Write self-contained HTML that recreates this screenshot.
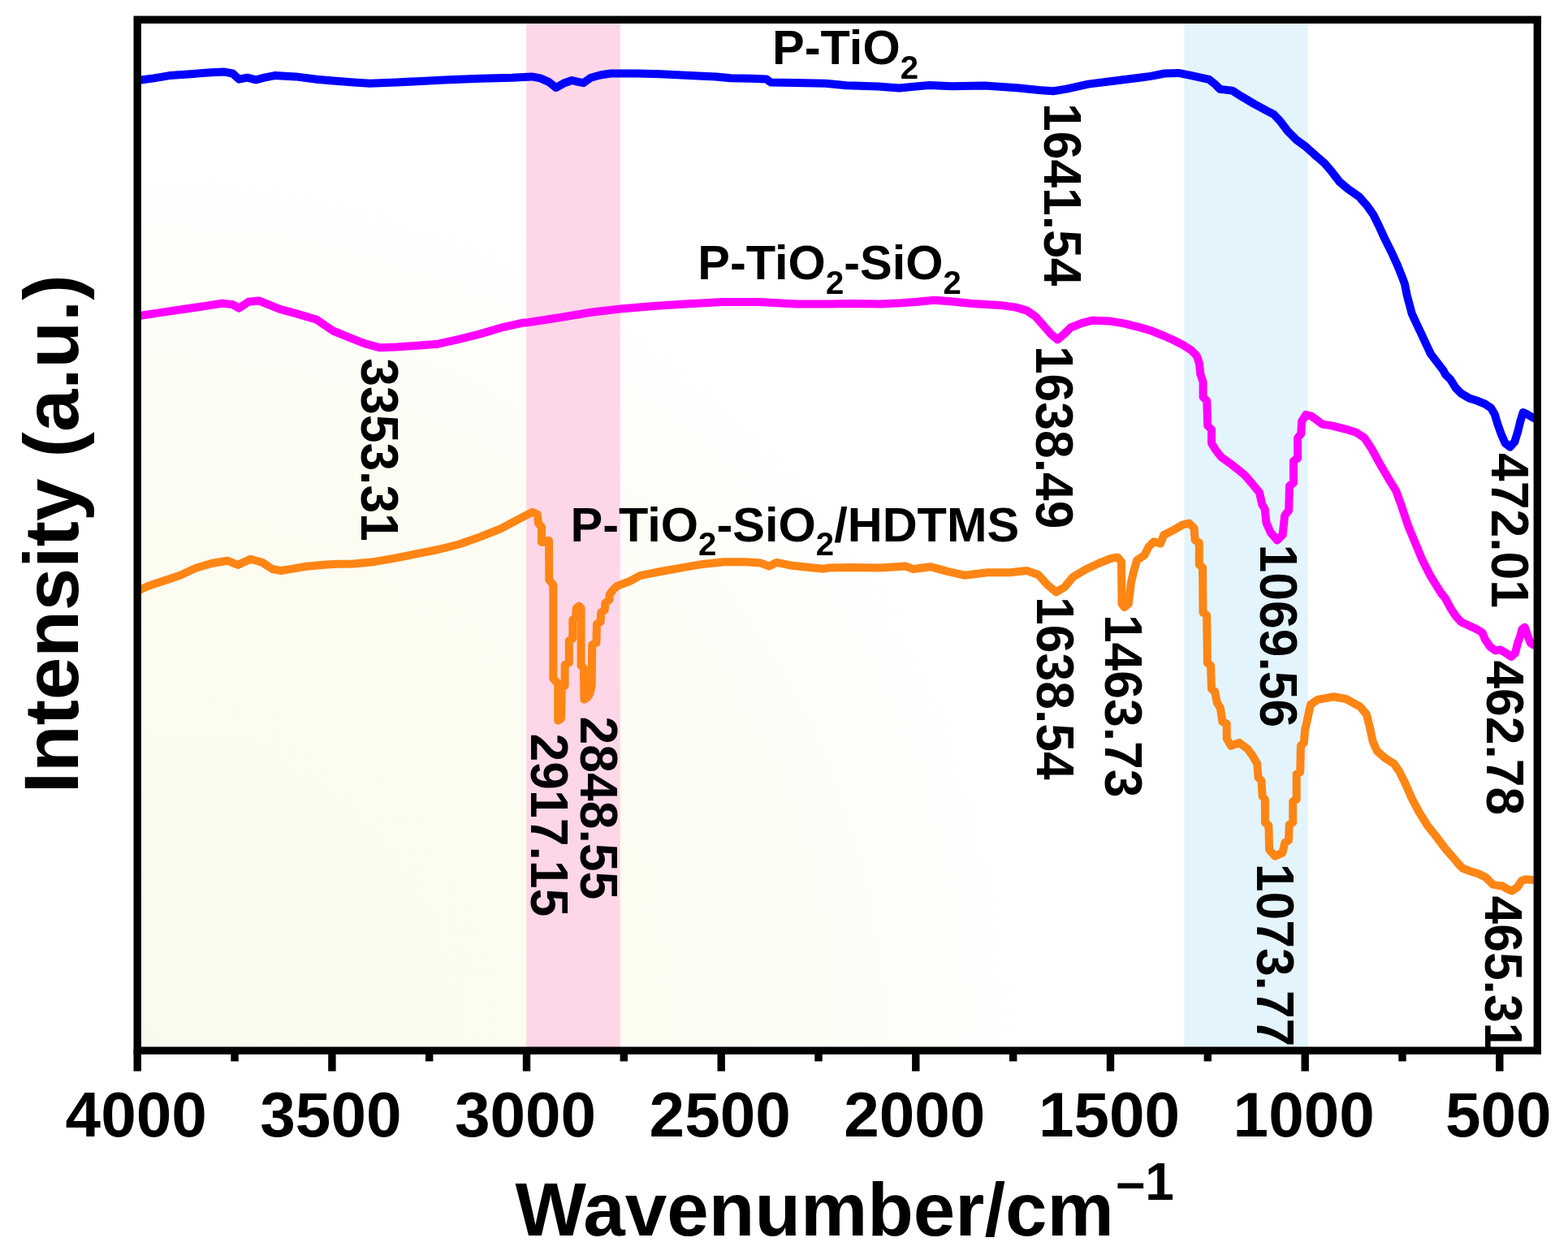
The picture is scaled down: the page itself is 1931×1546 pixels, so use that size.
<!DOCTYPE html>
<html><head><meta charset="utf-8"><title>FTIR spectra</title>
<style>html,body{margin:0;padding:0;background:#fff;}svg{display:block;}</style></head>
<body>
<svg width="1931" height="1546" viewBox="0 0 1931 1546">
<defs><radialGradient id="bg" gradientUnits="userSpaceOnUse" cx="174" cy="1290" r="1400"><stop offset="0" stop-color="#fafaec"/><stop offset="0.5" stop-color="#fcfcf2"/><stop offset="0.8" stop-color="#ffffff"/><stop offset="1" stop-color="#ffffff"/></radialGradient><clipPath id="pc"><rect x="169.2" y="24.3" width="1724.1" height="1269.9"/></clipPath></defs>
<rect x="0" y="0" width="1931" height="1546" fill="#ffffff"/>
<rect x="169.2" y="24.3" width="1724.1" height="1262.9" fill="url(#bg)"/>
<rect x="648.2" y="24.3" width="115.6" height="1269.9" fill="#fdd6e7"/>
<rect x="1458.4" y="24.3" width="152.3" height="1269.9" fill="#e3f4fd"/>
<g clip-path="url(#pc)" fill="none" stroke-linejoin="round" stroke-linecap="round" stroke-width="10">
<polyline stroke="#0000ff" points="170.0,99.0 189.4,96.4 208.8,93.1 234.7,91.2 260.6,89.2 276.2,88.6 286.5,90.5 294.3,97.7 304.6,95.7 315.0,98.3 325.4,95.7 338.3,93.1 364.2,94.4 390.1,97.7 410.0,99.6 435.9,101.5 455.3,102.8 487.7,101.5 513.6,100.2 552.4,98.3 591.3,96.8 630.1,95.7 655.0,94.4 665.4,96.4 675.7,100.9 684.8,108.0 693.8,102.8 704.2,99.0 712.0,100.9 718.4,102.2 727.5,95.7 739.2,92.5 752.1,90.5 784.5,90.5 814.2,91.2 849.2,93.1 881.6,94.4 900.0,96.2 925.9,96.8 944.0,97.5 949.2,101.4 977.7,102.0 1016.5,102.7 1042.4,105.2 1081.3,106.5 1107.1,108.5 1133.0,105.9 1145.0,104.9 1171.9,106.3 1212.3,105.6 1252.7,108.3 1279.6,111.0 1297.1,112.3 1313.3,109.6 1340.2,103.6 1367.2,100.2 1405.0,95.5 1417.1,93.9 1434.2,90.5 1451.3,89.9 1468.4,93.4 1488.9,97.9 1496.8,104.2 1502.5,109.9 1517.4,111.6 1527.6,117.9 1544.7,128.1 1560.0,136.4 1568.5,140.7 1577.1,149.9 1585.6,161.3 1597.0,172.7 1607.0,179.8 1619.8,191.2 1631.1,201.1 1639.7,211.1 1649.6,223.9 1659.6,232.4 1673.8,242.4 1683.8,253.8 1690.9,263.8 1698.0,278.0 1705.1,293.6 1713.7,310.7 1720.8,326.4 1726.5,340.6 1730.0,350.0 1732.6,363.3 1738.8,386.6 1749.7,409.9 1762.1,436.3 1777.6,456.5 1780.0,461.3 1786.5,467.8 1792.9,478.1 1799.4,484.6 1809.1,490.4 1818.8,493.6 1828.5,497.5 1836.3,502.7 1840.8,510.5 1844.0,521.4 1848.6,534.4 1853.7,546.0 1859.6,550.6 1865.4,544.1 1869.3,531.2 1872.5,518.2 1875.7,507.9 1880.9,510.5 1888.7,515.0 1896.0,518.0"/>
<polyline stroke="#ff00ff" points="170.0,389.3 195.9,385.4 221.8,381.5 247.7,377.7 273.6,373.8 286.5,375.1 294.3,379.6 305.9,371.8 318.9,370.5 331.8,375.7 344.8,380.9 364.2,386.1 390.1,393.8 410.0,407.5 429.4,415.3 448.8,423.1 468.3,428.3 487.7,427.6 513.6,425.7 539.5,423.7 565.4,417.9 591.3,411.4 617.1,403.7 643.0,397.8 650.0,397.2 688.8,391.3 727.7,384.8 766.5,380.2 805.4,377.0 844.2,374.4 890.0,372.0 935.3,372.0 980.6,374.6 1019.5,374.6 1051.8,374.0 1084.2,374.6 1110.1,373.3 1130.0,371.8 1150.2,369.8 1170.4,371.2 1197.3,373.9 1231.0,375.9 1251.2,378.6 1264.6,382.6 1275.4,390.0 1284.8,400.8 1294.3,411.6 1302.3,418.3 1310.4,411.6 1318.5,403.5 1332.0,398.1 1345.4,394.7 1365.6,395.4 1385.0,398.6 1392.9,400.7 1405.9,403.9 1418.8,407.8 1431.7,413.0 1444.7,418.8 1457.6,425.3 1467.3,431.7 1473.8,438.2 1477.0,447.9 1478.3,460.9 1481.6,470.6 1481.6,489.0 1486.3,494.0 1487.1,524.3 1492.1,529.3 1492.1,546.1 1497.2,554.5 1503.9,563.0 1515.7,571.4 1532.5,584.8 1542.6,596.6 1551.0,606.7 1554.4,621.8 1557.7,626.9 1559.4,643.7 1564.5,655.5 1572.9,665.5 1579.6,658.8 1582.1,635.3 1587.2,628.5 1588.0,598.3 1593.0,594.9 1593.0,568.0 1598.1,564.6 1598.1,539.4 1602.3,534.4 1603.1,519.2 1608.2,510.8 1614.9,512.5 1628.4,522.6 1640.0,524.4 1656.8,528.6 1670.3,532.8 1680.4,539.5 1688.8,552.2 1698.9,570.7 1710.7,590.8 1719.1,604.3 1725.8,622.8 1734.2,648.0 1742.6,668.2 1751.0,688.4 1761.1,708.6 1774.6,730.5 1780.0,737.1 1786.5,749.4 1792.9,759.1 1799.4,766.2 1809.1,770.8 1818.8,775.3 1825.3,779.2 1829.2,788.2 1835.0,796.6 1841.4,801.2 1847.9,800.5 1854.4,804.4 1860.9,808.9 1866.0,804.4 1869.3,791.4 1871.8,785.0 1874.4,775.3 1877.7,772.7 1880.9,781.7 1884.8,792.1 1888.7,794.7 1896.0,796.0"/>
<polyline stroke="#ff8514" points="170.0,727.6 182.9,721.8 202.4,715.3 221.8,708.8 241.2,699.8 260.6,694.0 280.0,690.7 293.0,695.9 308.5,688.8 322.8,692.7 335.7,701.1 346.1,703.0 357.7,701.1 377.1,697.8 396.6,695.9 410.0,695.1 435.9,694.4 461.8,691.9 487.7,687.3 513.6,682.1 539.5,677.0 565.4,670.5 591.3,661.4 617.1,651.1 636.6,640.7 655.4,630.9 661.7,633.6 663.0,645.0 667.0,649.0 667.0,668.0 676.0,666.0 676.2,700.0 676.2,714.2 681.3,720.7 681.3,835.8 687.2,842.3 687.2,887.6 691.0,885.0 691.7,847.5 695.6,844.9 695.6,819.0 700.8,816.4 700.8,789.3 705.3,786.7 705.3,763.4 709.2,760.8 709.8,749.2 713.0,746.6 715.6,749.2 715.6,820.3 718.9,822.9 719.5,861.7 723.4,859.1 726.0,855.2 728.6,844.9 729.2,794.4 734.4,791.8 735.0,768.6 739.6,766.0 740.2,754.3 744.7,751.7 745.4,742.7 750.6,738.8 750.6,732.3 755.7,725.9 760.0,722.0 765.9,719.7 775.0,716.3 788.0,709.1 813.8,704.0 839.7,699.4 865.6,694.9 891.5,692.3 917.4,692.3 936.8,693.6 947.2,697.5 956.3,692.9 975.7,696.8 1001.6,699.4 1014.5,700.7 1020.0,699.6 1048.0,698.9 1082.9,699.6 1115.1,697.5 1124.9,701.0 1145.8,698.2 1166.8,703.8 1187.8,708.7 1215.7,705.2 1243.7,705.2 1264.7,703.1 1278.7,708.0 1290.0,720.5 1300.7,729.4 1311.1,723.2 1321.4,710.8 1337.0,701.5 1352.5,694.2 1368.0,688.0 1376.3,686.4 1381.0,692.1 1381.5,743.9 1384.6,748.1 1389.8,743.9 1392.9,718.0 1396.0,704.6 1400.1,690.1 1409.5,683.9 1414.6,673.5 1420.9,667.3 1429.1,669.4 1433.3,659.0 1445.7,652.8 1456.1,646.6 1464.4,644.5 1470.6,650.7 1471.6,665.2 1476.8,668.6 1476.8,695.5 1481.0,698.9 1481.5,754.4 1486.1,757.8 1486.9,816.6 1491.1,820.0 1492.0,848.6 1496.2,852.0 1498.7,865.4 1502.9,872.2 1505.4,889.0 1510.7,891.6 1510.7,909.8 1515.9,918.8 1526.2,914.9 1536.6,922.7 1543.0,931.7 1548.2,940.8 1549.5,957.6 1553.4,961.5 1554.7,980.9 1557.9,984.8 1557.9,1013.2 1562.4,1017.1 1563.1,1046.9 1570.2,1054.6 1579.3,1050.7 1582.5,1037.8 1587.0,1035.2 1587.7,1015.8 1592.2,1013.2 1592.2,987.4 1596.7,984.8 1596.7,953.7 1601.2,951.1 1601.9,918.8 1605.8,914.9 1607.1,899.4 1608.7,892.4 1614.0,867.9 1622.7,861.8 1641.9,858.3 1657.6,861.0 1675.1,870.6 1682.9,880.0 1686.8,895.5 1690.7,913.6 1695.9,925.3 1706.2,934.3 1716.6,940.8 1723.0,949.8 1730.8,965.4 1738.6,983.5 1747.6,1000.3 1758.0,1017.1 1768.3,1030.0 1780.0,1045.6 1790.3,1057.2 1795.7,1063.9 1801.4,1069.6 1809.9,1073.0 1821.3,1076.5 1829.9,1081.0 1838.4,1089.6 1844.1,1090.7 1849.8,1091.3 1855.5,1094.7 1861.8,1097.5 1868.6,1093.0 1873.8,1085.0 1878.9,1083.3 1886.9,1083.9 1896.0,1084.0"/>
</g>
<rect x="169.2" y="24.3" width="1724.1" height="1269.9" fill="none" stroke="#000" stroke-width="9.4" stroke-linejoin="miter"/>
<rect x="164.5" y="1294.2" width="9.4" height="25.4" fill="#000"/>
<rect x="404.2" y="1294.2" width="9.4" height="25.4" fill="#000"/>
<rect x="643.8" y="1294.2" width="9.4" height="25.4" fill="#000"/>
<rect x="883.5" y="1294.2" width="9.4" height="25.4" fill="#000"/>
<rect x="1123.1" y="1294.2" width="9.4" height="25.4" fill="#000"/>
<rect x="1362.8" y="1294.2" width="9.4" height="25.4" fill="#000"/>
<rect x="1602.5" y="1294.2" width="9.4" height="25.4" fill="#000"/>
<rect x="1842.1" y="1294.2" width="9.4" height="25.4" fill="#000"/>
<rect x="284.3" y="1294.2" width="9.4" height="13.2" fill="#000"/>
<rect x="524.0" y="1294.2" width="9.4" height="13.2" fill="#000"/>
<rect x="763.6" y="1294.2" width="9.4" height="13.2" fill="#000"/>
<rect x="1003.3" y="1294.2" width="9.4" height="13.2" fill="#000"/>
<rect x="1243.0" y="1294.2" width="9.4" height="13.2" fill="#000"/>
<rect x="1482.6" y="1294.2" width="9.4" height="13.2" fill="#000"/>
<rect x="1722.3" y="1294.2" width="9.4" height="13.2" fill="#000"/>
<g font-family="'Liberation Sans', Arial, Helvetica, sans-serif" font-weight="bold" font-size="78.3" text-anchor="middle" fill="#000">
<text x="167.7" y="1400">4000</text>
<text x="407.4" y="1400">3500</text>
<text x="647.0" y="1400">3000</text>
<text x="886.7" y="1400">2500</text>
<text x="1126.3" y="1400">2000</text>
<text x="1366.0" y="1400">1500</text>
<text x="1605.7" y="1400">1000</text>
<text x="1845.3" y="1400">500</text>
</g>
<text x="634.4" y="1522.2" font-family="'Liberation Sans', Arial, Helvetica, sans-serif" font-weight="bold" font-size="92.6" fill="#000">Wavenumber/cm</text>
<text x="1374.6" y="1477.8" font-family="'Liberation Sans', Arial, Helvetica, sans-serif" font-weight="bold" font-size="64" fill="#000">–1</text>
<text transform="translate(95.8 977.3) rotate(-90)" x="0" y="0" font-family="'Liberation Sans', Arial, Helvetica, sans-serif" font-weight="bold" font-size="94.27" fill="#000">Intensity (a.u.)</text>
<text x="951.1" y="79" font-family="'Liberation Sans', Arial, Helvetica, sans-serif" font-weight="bold" font-size="59.5" fill="#000"><tspan dy="0">P-TiO</tspan><tspan font-size="40.2" dy="17.7">2</tspan></text>
<text x="859.3" y="344.2" font-family="'Liberation Sans', Arial, Helvetica, sans-serif" font-weight="bold" font-size="59.5" fill="#000"><tspan dy="0">P-TiO</tspan><tspan font-size="40.2" dy="17.7">2</tspan><tspan dy="-17.7">-SiO</tspan><tspan font-size="40.2" dy="17.7">2</tspan></text>
<text x="702.5" y="666.5" font-family="'Liberation Sans', Arial, Helvetica, sans-serif" font-weight="bold" font-size="59.5" fill="#000"><tspan dy="0">P-TiO</tspan><tspan font-size="40.2" dy="17.7">2</tspan><tspan dy="-17.7">-SiO</tspan><tspan font-size="40.2" dy="17.7">2</tspan><tspan dy="-17.7">/HDTMS</tspan></text>
<g font-family="'Liberation Sans', Arial, Helvetica, sans-serif" font-weight="bold" font-size="62.4" fill="#000">
<text transform="translate(1286.4 127.0) rotate(90) scale(1 1.025)" x="0" y="0">1641.54</text>
<text transform="translate(444.9 441.3) rotate(90) scale(1 1.025)" x="0" y="0">3353.31</text>
<text transform="translate(1276.0 425.9) rotate(90) scale(1 1.025)" x="0" y="0">1638.49</text>
<text transform="translate(654.0 903.6) rotate(90) scale(1 1.025)" x="0" y="0">2917.15</text>
<text transform="translate(714.7 882.6) rotate(90) scale(1 1.025)" x="0" y="0">2848.55</text>
<text transform="translate(1276.7 735.1) rotate(90) scale(1 1.025)" x="0" y="0">1638.54</text>
<text transform="translate(1360.6 756.9) rotate(90) scale(1 1.025)" x="0" y="0">1463.73</text>
<text transform="translate(1552.3 670.6) rotate(90) scale(1 1.025)" x="0" y="0">1069.56</text>
<text transform="translate(1547.7 1063.8) rotate(90) scale(1 1.025)" x="0" y="0">1073.77</text>
<text transform="translate(1836.8 558.1) rotate(90) scale(1 1.025)" x="0" y="0">472.01</text>
<text transform="translate(1831.3 813.4) rotate(90) scale(1 1.025)" x="0" y="0">462.78</text>
<text transform="translate(1829.3 1103.5) rotate(90) scale(1 1.025)" x="0" y="0">465.31</text>
</g>
</svg>
</body></html>
